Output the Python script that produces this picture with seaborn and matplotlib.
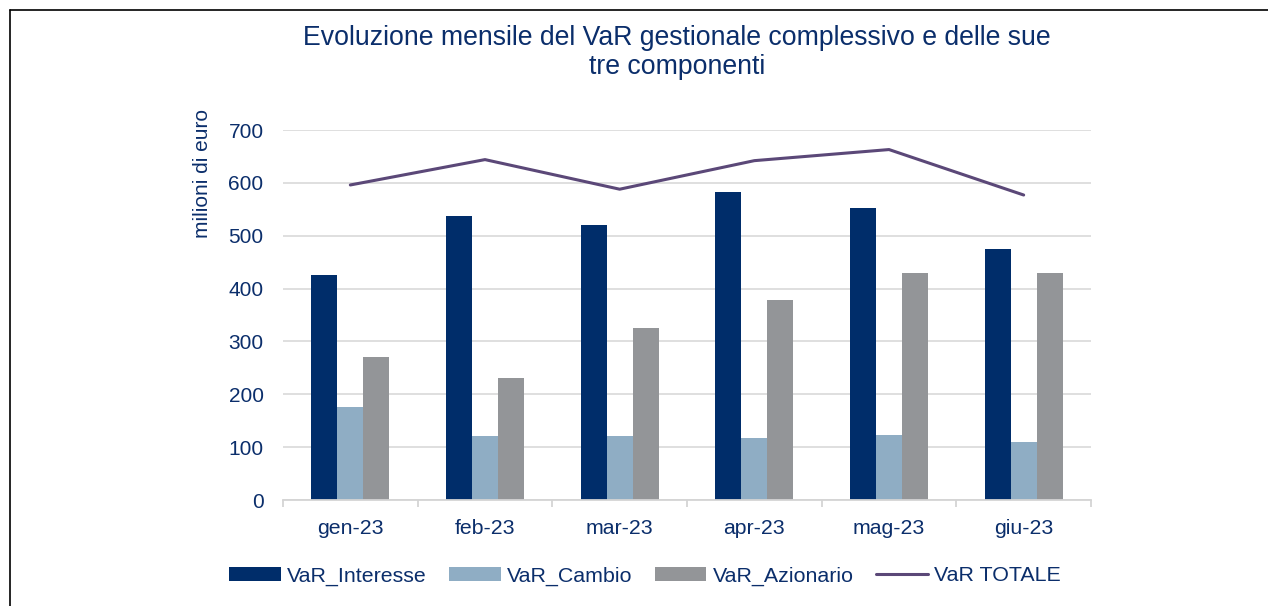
import pandas as pd
import numpy as np
import matplotlib.pyplot as plt
from matplotlib.lines import Line2D
from matplotlib.ticker import MultipleLocator, FixedLocator
import seaborn as sns

# dati (milioni di euro)
mesi = ["gen-23", "feb-23", "mar-23", "apr-23", "mag-23", "giu-23"]
var_interesse = [426, 537, 521, 583, 553, 474]
var_cambio = [176, 121, 121, 118, 123, 110]
var_azionario = [271, 230, 325, 378, 430, 429]
var_totale = [596, 644, 588, 642, 663, 577]

serie = ["VaR_Interesse", "VaR_Cambio", "VaR_Azionario"]
colori = ["#002d6a", "#8fadc4", "#939598"]
col_linea = "#5b4878"
col_testo = "#0b2e6b"

df = pd.DataFrame({
    "Mese": mesi * 3,
    "Serie": [s for s in serie for _ in mesi],
    "Valore": var_interesse + var_cambio + var_azionario,
})

sns.set_style("white")
plt.rcParams["font.family"] = ["Liberation Sans", "DejaVu Sans"]

W, H = 1268, 606
fig = plt.figure(figsize=(W / 100, H / 100), dpi=100)
ax = fig.add_axes([283 / W, 1 - 500 / H, (1091 - 283) / W, 370 / H])

sns.barplot(data=df, x="Mese", y="Valore", hue="Serie", palette=colori,
            width=0.58, saturation=1, ax=ax, legend=True, linewidth=0)
sns.lineplot(x=np.arange(len(mesi)), y=var_totale, color=col_linea,
             linewidth=2.2, ax=ax, label="VaR TOTALE")

ax.set_ylim(0, 700)
ax.set_xlim(-0.5, len(mesi) - 0.5)
ax.yaxis.set_major_locator(MultipleLocator(100))
ax.grid(axis="y", color="#dcdcdc", linewidth=1.3)
ax.set_axisbelow(True)
for s in ["top", "right", "left"]:
    ax.spines[s].set_visible(False)
ax.spines["bottom"].set_color("#d4d4d4")
ax.spines["bottom"].set_linewidth(1.3)

ax.set_xticks(range(len(mesi)))
ax.set_xticklabels(mesi)
ax.xaxis.set_minor_locator(FixedLocator(np.arange(-0.5, len(mesi), 1)))
ax.tick_params(axis="x", which="major", length=0, pad=14, labelsize=15.3, labelcolor=col_testo)
ax.tick_params(axis="x", which="minor", length=5, width=1.3, color="#d4d4d4", direction="out", bottom=True)
ax.tick_params(axis="y", length=0, pad=14, labelsize=15, labelcolor=col_testo)
ax.set_xlabel("")
ax.set_ylabel("")

fig.text(202 / W, 1 - 173 / H, "milioni di euro", rotation=90, ha="center", va="center",
         fontsize=15, color=col_testo)

fig.text(677 / W, 1 - 25 / H,
         "Evoluzione mensile del VaR gestionale complessivo e delle sue\ntre componenti",
         ha="center", va="top", fontsize=19.2, color=col_testo, linespacing=1.17)

handles, labels = ax.get_legend_handles_labels()
ax.get_legend().remove()
fig.legend(handles, labels, loc="center", bbox_to_anchor=(645 / W, 1 - 576 / H), ncol=4,
           frameon=False, fontsize=15.4, labelcolor=col_testo, handlelength=2.4,
           handleheight=0.6, handletextpad=0.3, columnspacing=1.05)

# cornice
fig.add_artist(Line2D([10 / W, 1], [1 - 10 / H, 1 - 10 / H], color="black", linewidth=1.2))
fig.add_artist(Line2D([10 / W, 10 / W], [0, 1 - 10 / H], color="black", linewidth=1.2))

fig.savefig("out.png", dpi=100)
